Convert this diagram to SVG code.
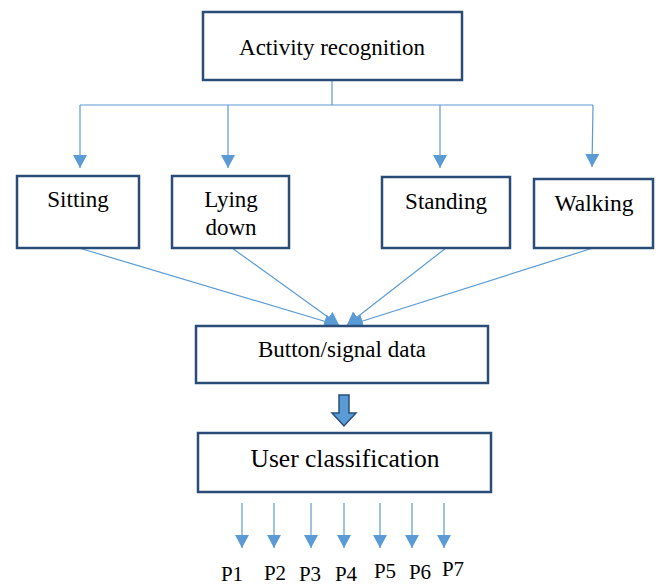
<svg xmlns="http://www.w3.org/2000/svg" width="660" height="587" viewBox="0 0 660 587">
<style>
.box{fill:#fff;stroke:#2a4d78;stroke-width:2.5}
.c{fill:none;stroke:#5b9bd5;stroke-width:1.2}
</style>
<defs>
<marker id="ah" markerUnits="userSpaceOnUse" markerWidth="14" markerHeight="14" viewBox="0 0 14 14" refX="13" refY="7" orient="auto">
<path d="M0,0 L13,7 L0,14 Z" fill="#5b9bd5"/>
</marker>
</defs>
<rect width="660" height="587" fill="#fff"/>
<g id="connectors">
<path class="c" d="M332,80 V105 M80,105 H593"/>
<path class="c" d="M80,105 V168" marker-end="url(#ah)"/>
<path class="c" d="M228,105 V168" marker-end="url(#ah)"/>
<path class="c" d="M440,105 V168" marker-end="url(#ah)"/>
<path class="c" d="M593,105 L592,167" marker-end="url(#ah)"/>
<path class="c" d="M79,248 L337,325" marker-end="url(#ah)"/>
<path class="c" d="M232,248 L339,325" marker-end="url(#ah)"/>
<path class="c" d="M446,248 L347,325" marker-end="url(#ah)"/>
<path class="c" d="M593,248 L350,325" marker-end="url(#ah)"/>
<path d="M339,395 H349 V413 H356 L344,426 L332,413 H339 Z" fill="#5b9bd5" stroke="#2a4d78" stroke-width="1.5"/>
<path class="c" d="M242,503 V548" marker-end="url(#ah)"/>
<path class="c" d="M274,503 V548" marker-end="url(#ah)"/>
<path class="c" d="M311,503 V548" marker-end="url(#ah)"/>
<path class="c" d="M344,503 V548" marker-end="url(#ah)"/>
<path class="c" d="M380,503 V548" marker-end="url(#ah)"/>
<path class="c" d="M412,503 V548" marker-end="url(#ah)"/>
<path class="c" d="M444,503 V548" marker-end="url(#ah)"/>
</g>
<g font-family="Liberation Serif, DejaVu Serif, serif" text-anchor="middle" fill="#000">
<g id="activity">
<rect class="box" x="203" y="12" width="259" height="68"/>
<text x="332" y="55" font-size="23">Activity recognition</text>
</g>
<g id="sitting">
<rect class="box" x="17" y="176" width="122" height="72"/>
<text x="78" y="207" font-size="23">Sitting</text>
</g>
<g id="lying">
<rect class="box" x="172" y="176" width="117" height="72"/>
<text x="231" y="207" font-size="23">Lying</text>
<text x="231" y="235" font-size="23">down</text>
</g>
<g id="standing">
<rect class="box" x="382" y="177" width="128" height="71"/>
<text x="446" y="209" font-size="23">Standing</text>
</g>
<g id="walking">
<rect class="box" x="534" y="179" width="119" height="69"/>
<text x="594" y="211" font-size="23.5">Walking</text>
</g>
<g id="button">
<rect class="box" x="196" y="326" width="292" height="57"/>
<text x="342" y="357" font-size="23">Button/signal data</text>
</g>
<g id="user">
<rect class="box" x="198" y="433" width="293" height="59"/>
<text x="345" y="467" font-size="25.5">User classification</text>
</g>
<g id="labels" font-size="21">
<text x="232" y="581">P1</text>
<text x="275" y="580">P2</text>
<text x="310" y="581">P3</text>
<text x="346" y="581">P4</text>
<text x="385" y="578">P5</text>
<text x="420" y="579">P6</text>
<text x="453" y="576">P7</text>
</g>
</g>
</svg>
